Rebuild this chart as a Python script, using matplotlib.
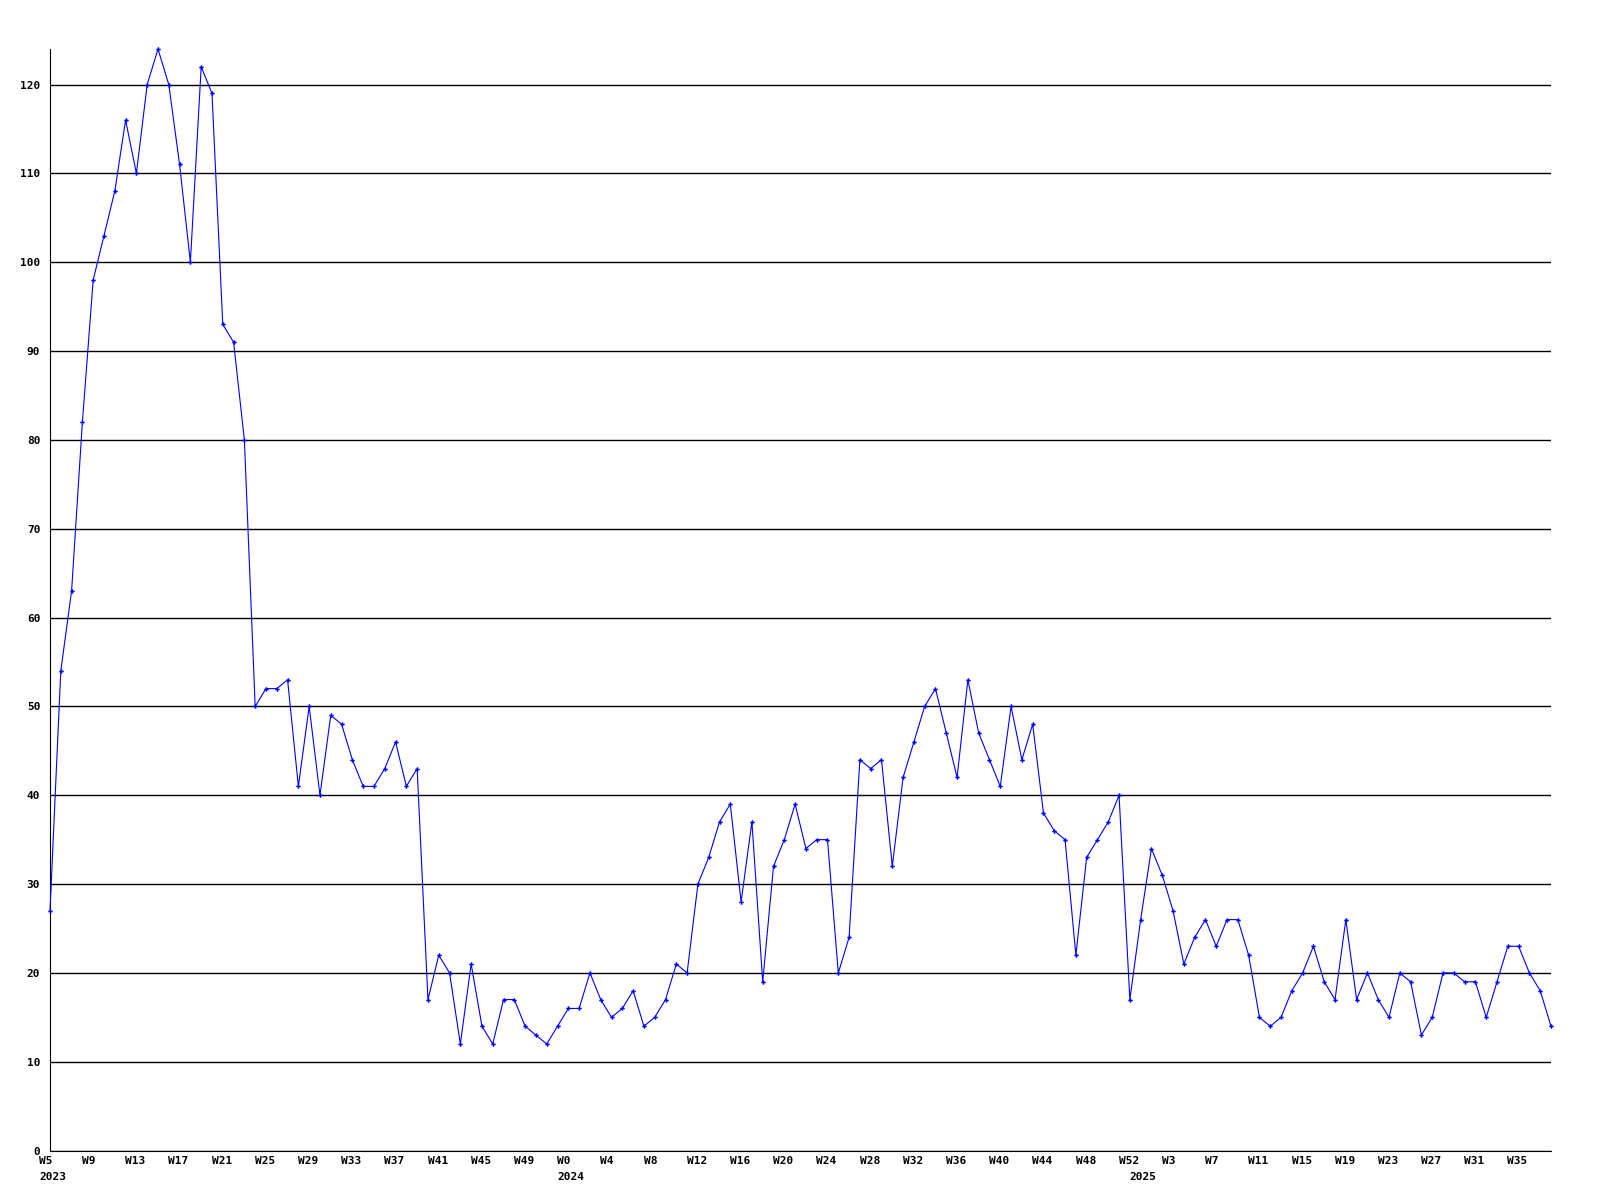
import matplotlib
matplotlib.use('Agg')
import matplotlib.pyplot as plt

# weekly values, W5 2023 .. W38 2025
values = [
    27, 54, 63, 82, 98, 103, 108, 116, 110, 120, 124, 120, 111, 100, 122, 119,
    93, 91, 80, 50, 52, 52, 53, 41, 50, 40, 49, 48, 44, 41, 41, 43, 46, 41, 43,
    17, 22, 20, 12, 21, 14, 12, 17, 17, 14, 13, 12, 14, 16, 16, 20, 17, 15, 16,
    18, 14, 15, 17, 21, 20, 30, 33, 37, 39, 28, 37, 19, 32, 35, 39, 34, 35, 35,
    20, 24, 44, 43, 44, 32, 42, 46, 50, 52, 47, 42, 53, 47, 44, 41, 50, 44, 48,
    38, 36, 35, 22, 33, 35, 37, 40, 17, 26, 34, 31, 27, 21, 24, 26, 23, 26, 26,
    22, 15, 14, 15, 18, 20, 23, 19, 17, 26, 17, 20, 17, 15, 20, 19, 13, 15, 20,
    20, 19, 19, 15, 19, 23, 23, 20, 18, 14,
]

week_labels = (
    ['W5', 'W9', 'W13', 'W17', 'W21', 'W25', 'W29', 'W33', 'W37', 'W41', 'W45', 'W49']
    + ['W0', 'W4', 'W8', 'W12', 'W16', 'W20', 'W24', 'W28', 'W32', 'W36', 'W40',
       'W44', 'W48', 'W52']
    + ['W3', 'W7', 'W11', 'W15', 'W19', 'W23', 'W27', 'W31', 'W35']
)
years = ['2023', '2024', '2025']
year_start = [0, 48, 101]   # index of the first week of each year

yticks = [0, 10, 20, 30, 40, 50, 60, 70, 80, 90, 100, 110, 120]

font = dict(family='DejaVu Sans Mono', fontweight='bold', fontsize=8)

fig = plt.figure(figsize=(16, 12), dpi=100)
ax = fig.add_axes([50 / 1600, 1 - 1150.6 / 1200, 1501 / 1600, 1101.6 / 1200])

x = list(range(len(values)))
ax.plot(x, values, color='#0000ff', lw=0.8, marker='P', ms=3.2, mew=0,
        zorder=3, clip_on=False)

ax.set_xlim(0, len(values) - 1)
ax.set_ylim(0, max(values))

ax.set_yticks(yticks)
ax.set_yticklabels([str(v) for v in yticks], **font)
ax.tick_params(axis='y', length=0, pad=7)
ax.grid(axis='y', color='black', lw=1)
ax.set_axisbelow(True)

ax.set_xticks([])
for i, lab in enumerate(week_labels):
    ax.annotate(lab, xy=(i * 4, 0), xycoords=('data', 'axes fraction'),
                xytext=(-8, -7.5), textcoords='offset points',
                ha='left', va='center', **font)
for pos, yr in zip(year_start, years):
    ax.annotate(yr, xy=(pos, 0), xycoords=('data', 'axes fraction'),
                xytext=(-8, -19), textcoords='offset points',
                ha='left', va='center', **font)

for s in ['top', 'right']:
    ax.spines[s].set_visible(False)
ax.spines['left'].set_color('black')
ax.spines['bottom'].set_color('black')

plt.savefig('out.png', dpi=100)
